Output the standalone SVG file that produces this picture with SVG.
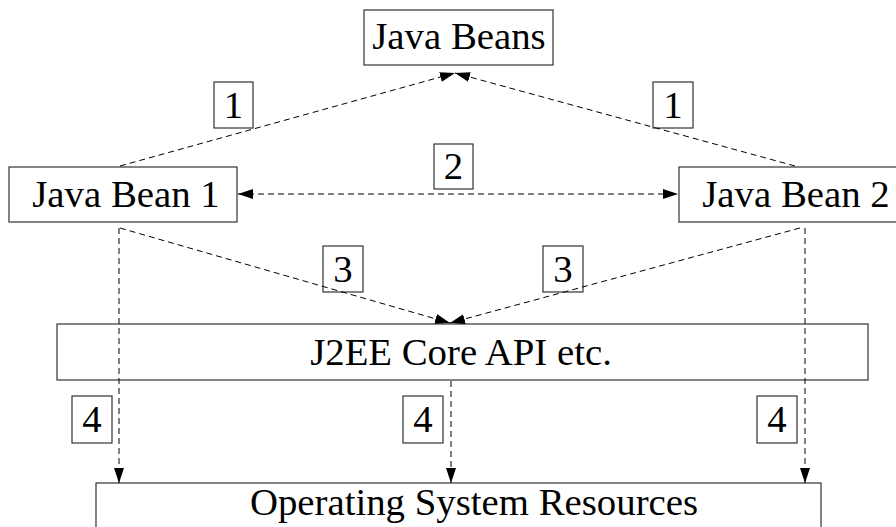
<svg xmlns="http://www.w3.org/2000/svg" width="896" height="527" viewBox="0 0 896 527">
<style>
.box{fill:#fff;stroke:#333;stroke-width:1.2}
.t{font-family:"Liberation Serif","Times New Roman",serif;font-size:38.8px;fill:#000}
.c{fill:none;stroke:#000;stroke-width:1;stroke-dasharray:6 4}
</style>
<defs>
<marker id="ah" markerUnits="userSpaceOnUse" markerWidth="16" markerHeight="12" refX="15" refY="6" orient="auto-start-reverse">
<path d="M0,1 L15,6 L0,11 Z" fill="#000"/>
</marker>
</defs>
<rect width="896" height="527" fill="#fff"/>
<g id="javabeans"><rect class="box" x="364" y="10" width="189" height="55"/><text class="t" x="459" y="49" text-anchor="middle">Java Beans</text></g>
<g id="javabean1"><rect class="box" x="9" y="167" width="228" height="55"/><text class="t" x="126" y="207" text-anchor="middle">Java Bean 1</text></g>
<g id="javabean2"><rect class="box" x="679" y="167" width="230" height="55"/><text class="t" x="796" y="207" text-anchor="middle">Java Bean 2</text></g>
<g id="j2ee"><rect class="box" x="57" y="324" width="811" height="56"/><text class="t" x="461" y="365" text-anchor="middle">J2EE Core API etc.</text></g>
<g id="os"><rect class="box" x="96" y="483" width="725" height="60"/><text class="t" x="474" y="515" text-anchor="middle">Operating System Resources</text></g>
<g id="label1a"><rect class="box" x="214" y="82" width="39" height="46"/><text class="t" x="233.5" y="118" text-anchor="middle">1</text></g>
<g id="label1b"><rect class="box" x="653" y="82" width="40" height="46"/><text class="t" x="673" y="118" text-anchor="middle">1</text></g>
<g id="label2"><rect class="box" x="434" y="144" width="39" height="45"/><text class="t" x="453.5" y="179" text-anchor="middle">2</text></g>
<g id="label3a"><rect class="box" x="323" y="246" width="40" height="46"/><text class="t" x="343" y="282" text-anchor="middle">3</text></g>
<g id="label3b"><rect class="box" x="543" y="246" width="40" height="46"/><text class="t" x="563" y="282" text-anchor="middle">3</text></g>
<g id="label4a"><rect class="box" x="72" y="396" width="40" height="47"/><text class="t" x="92" y="432" text-anchor="middle">4</text></g>
<g id="label4b"><rect class="box" x="403" y="396" width="40" height="47"/><text class="t" x="423" y="432" text-anchor="middle">4</text></g>
<g id="label4c"><rect class="box" x="757" y="396" width="40" height="47"/><text class="t" x="777" y="432" text-anchor="middle">4</text></g>
<g id="connectors">
<line class="c" x1="120" y1="166" x2="455" y2="73" marker-end="url(#ah)"/>
<line class="c" x1="795" y1="166" x2="455" y2="73" marker-end="url(#ah)"/>
<line class="c" x1="238" y1="194" x2="678" y2="194" marker-start="url(#ah)" marker-end="url(#ah)"/>
<line class="c" x1="120" y1="228" x2="450" y2="323" marker-end="url(#ah)"/>
<line class="c" x1="800" y1="228" x2="450" y2="323" marker-end="url(#ah)"/>
<line class="c" x1="119" y1="228" x2="119" y2="483" marker-end="url(#ah)"/>
<line class="c" x1="451" y1="381" x2="451" y2="483" marker-end="url(#ah)"/>
<line class="c" x1="805" y1="228" x2="805" y2="483" marker-end="url(#ah)"/>
</g>
</svg>
